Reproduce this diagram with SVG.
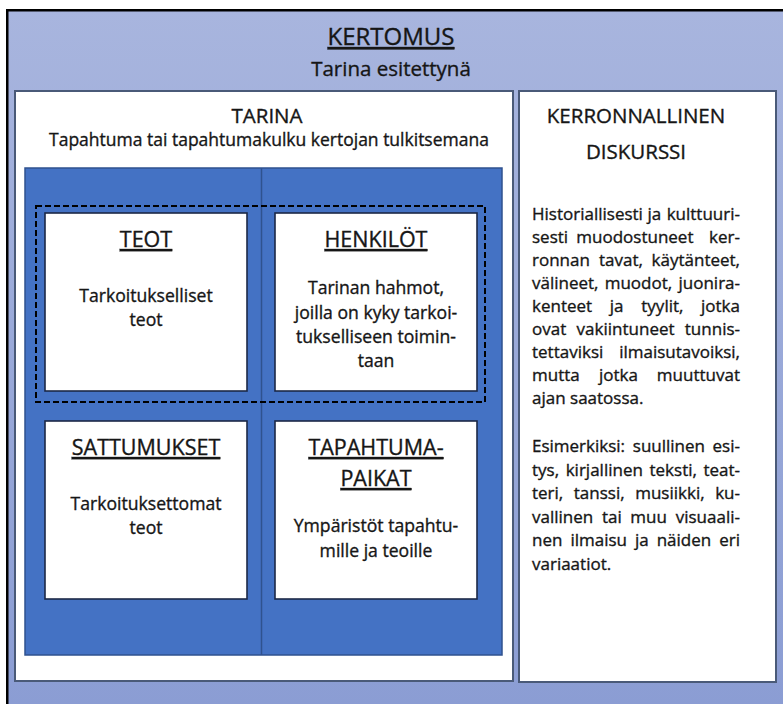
<svg xmlns="http://www.w3.org/2000/svg" width="783" height="704" viewBox="0 0 783 704">
<defs>
<linearGradient id="bg" x1="0" y1="0" x2="0" y2="1">
<stop offset="0" stop-color="#a8b5de"/>
<stop offset="1" stop-color="#8a9cd3"/>
</linearGradient>
</defs>
<style>
text{font-family:"Open Sans","Liberation Sans",sans-serif;fill:#161616;stroke:#161616;stroke-width:0.35px}
.h{font-size:20.5px;text-anchor:middle}
.big{font-size:24px;text-anchor:middle;text-decoration:underline}
.sub{font-size:17.5px;text-anchor:middle}
.bt{font-size:21.5px;text-anchor:middle;text-decoration:underline}
.b{font-size:17.6px;text-anchor:middle}
.j{font-size:17px}
.e{text-anchor:end}
.panel{fill:#fff;stroke:#4a5a78;stroke-width:2}
.box{fill:#fff;stroke:#1c2846;stroke-width:1.6}
</style>
<g id="kertomus">
<rect x="7.25" y="10.25" width="800" height="720" fill="url(#bg)" stroke="#000" stroke-width="2.5"/>
<text class="big" x="391" y="45">KERTOMUS</text>
<text class="h" x="391" y="76">Tarina esitettynä</text>
</g>
<g id="tarina">
<rect class="panel" x="15" y="91" width="498" height="590"/>
<text class="h" x="267" y="123">TARINA</text>
<text class="sub" x="269" y="146">Tapahtuma tai tapahtumakulku kertojan tulkitsemana</text>
<rect x="25" y="168" width="477" height="487" fill="#4472c4" stroke="#2f528f" stroke-width="1.5"/>
<line x1="261.5" y1="168" x2="261.5" y2="655" stroke="#2f528f" stroke-width="1.5"/>
</g>
<g id="connectors">
<rect x="36" y="206" width="449" height="196" fill="none" stroke="#000" stroke-width="2" stroke-dasharray="6 3"/>
</g>
<g id="teot">
<rect class="box" x="45" y="213" width="202" height="178"/>
<text class="bt" x="146" y="247">TEOT</text>
<text class="b" x="146" y="301.5">Tarkoitukselliset</text>
<text class="b" x="146" y="325.5">teot</text>
</g>
<g id="henkilot">
<rect class="box" x="275" y="213" width="202" height="178"/>
<text class="bt" x="376" y="247">HENKILÖT</text>
<text class="b" x="376" y="294">Tarinan hahmot,</text>
<text class="b" x="376" y="318.5">joilla on kyky tarkoi-</text>
<text class="b" x="376" y="343">tukselliseen toimin-</text>
<text class="b" x="376" y="367">taan</text>
</g>
<g id="sattumukset">
<rect class="box" x="45" y="421" width="202" height="178"/>
<text class="bt" x="146" y="455">SATTUMUKSET</text>
<text class="b" x="146" y="510">Tarkoituksettomat</text>
<text class="b" x="146" y="533.5">teot</text>
</g>
<g id="tapahtumapaikat">
<rect class="box" x="275" y="421" width="202" height="178"/>
<text class="bt" x="376" y="455">TAPAHTUMA-</text>
<text class="bt" x="376" y="486">PAIKAT</text>
<text class="b" x="376" y="531.5">Ympäristöt tapahtu-</text>
<text class="b" x="376" y="556.5">mille ja teoille</text>
</g>
<g id="diskurssi">
<rect class="panel" x="519" y="91" width="257" height="591"/>
<text class="h" x="636" y="123">KERRONNALLINEN</text>
<text class="h" x="636" y="159">DISKURSSI</text>
<text class="j" y="220"><tspan x="532">Historiallisesti</tspan><tspan x="647.5">ja</tspan><tspan class="e" x="740">kulttuuri-</tspan></text>
<text class="j" y="243"><tspan x="532">sesti</tspan><tspan x="576.3">muodostuneet</tspan><tspan class="e" x="740">ker-</tspan></text>
<text class="j" y="266"><tspan x="532">ronnan</tspan><tspan x="599">tavat,</tspan><tspan class="e" x="740">käytänteet,</tspan></text>
<text class="j" y="289"><tspan x="532">välineet,</tspan><tspan x="604.7">muodot,</tspan><tspan class="e" x="740">juonira-</tspan></text>
<text class="j" y="312"><tspan x="532">kenteet</tspan><tspan x="609.8">ja</tspan><tspan x="641.3">tyylit,</tspan><tspan class="e" x="740">jotka</tspan></text>
<text class="j" y="335"><tspan x="532">ovat</tspan><tspan x="576.6">vakiintuneet</tspan><tspan class="e" x="740">tunnis-</tspan></text>
<text class="j" y="358"><tspan x="532">tettaviksi</tspan><tspan class="e" x="740">ilmaisutavoiksi,</tspan></text>
<text class="j" y="381"><tspan x="532">mutta</tspan><tspan x="598.9">jotka</tspan><tspan class="e" x="740">muuttuvat</tspan></text>
<text class="j" x="532" y="404">ajan saatossa.</text>
<text class="j" y="452"><tspan x="532">Esimerkiksi:</tspan><tspan x="632.8">suullinen</tspan><tspan class="e" x="740">esi-</tspan></text>
<text class="j" y="475.5"><tspan x="532">tys,</tspan><tspan x="565.7">kirjallinen</tspan><tspan x="649.5">teksti,</tspan><tspan class="e" x="740">teat-</tspan></text>
<text class="j" y="499"><tspan x="532">teri,</tspan><tspan x="573.8">tanssi,</tspan><tspan x="635.2">musiikki,</tspan><tspan class="e" x="740">ku-</tspan></text>
<text class="j" y="522.5"><tspan x="532">vallinen</tspan><tspan x="601.9">tai</tspan><tspan x="630.3">muu</tspan><tspan class="e" x="740">visuaali-</tspan></text>
<text class="j" y="546"><tspan x="532">nen</tspan><tspan x="570.4">ilmaisu</tspan><tspan x="635">ja</tspan><tspan x="656.7">näiden</tspan><tspan class="e" x="740">eri</tspan></text>
<text class="j" x="532" y="569.5">variaatiot.</text>
</g>
</svg>
